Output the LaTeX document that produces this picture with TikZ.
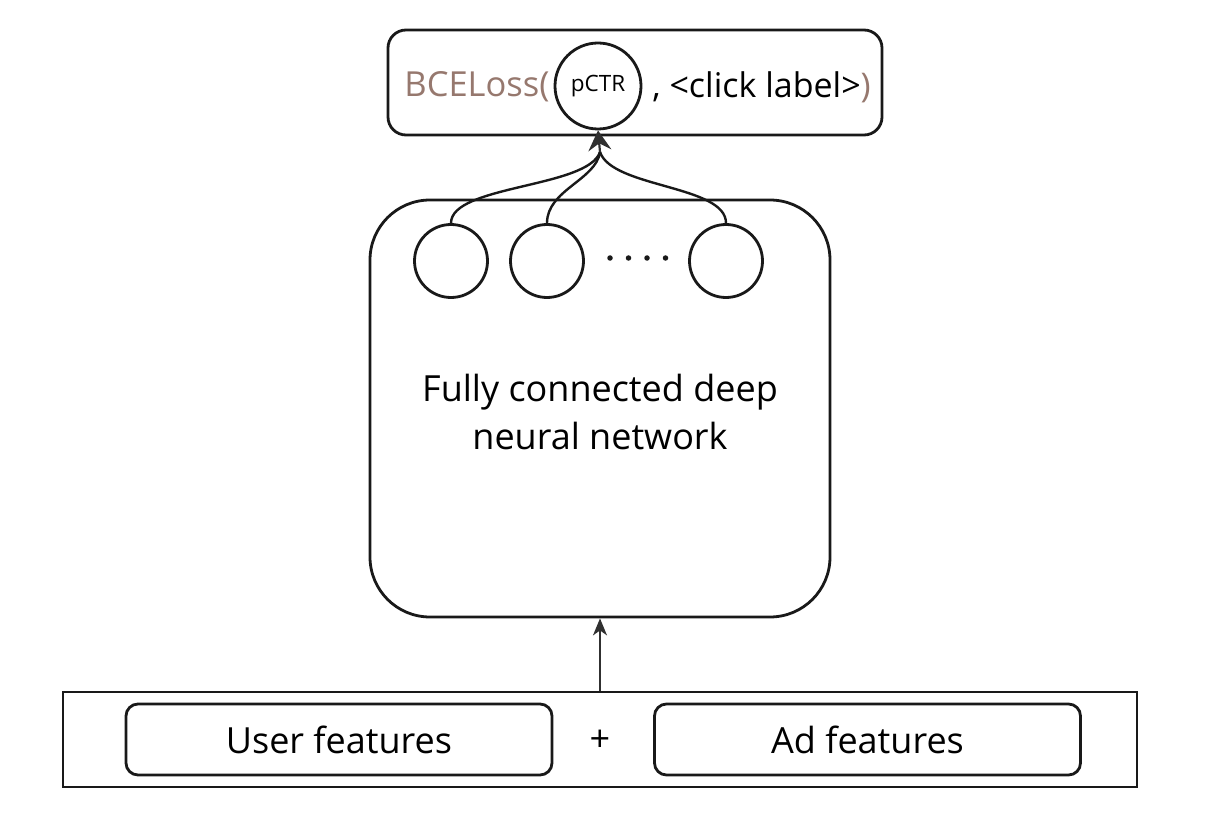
\documentclass[tikz,border=0pt]{standalone}
\usepackage{fontspec}
\setmainfont{Open Sans}
\usetikzlibrary{arrows.meta}
\definecolor{lossbrown}{RGB}{150,120,110}
\definecolor{ink}{RGB}{25,25,25}
\begin{document}
\begin{tikzpicture}[x=1pt,y=-1pt,
  line width=2.8pt, draw=ink,
  arr/.style={-{Stealth[length=20pt,width=23pt,inset=7pt]}, line width=2.2pt, draw=ink!90},
  featbox/.style={draw, rounded corners=12pt, minimum width=426pt, minimum height=71pt, font=\fontsize{36}{40}\selectfont},
  neuron/.style={draw, circle, minimum size=73pt, inner sep=0pt},
  dot/.style={fill=ink, circle, inner sep=0pt, minimum size=5.5pt}
]
\useasboundingbox (0,0) rectangle (1209,826);
% top loss box
\node[draw, rounded corners=18pt, minimum width=494pt, minimum height=105pt] (loss) at (635,82.5) {};
\node[anchor=west, font=\fontsize{34.5}{40}\selectfont, text=lossbrown, inner sep=0pt] (bce) at (403,87) {BCELoss(};
\node[draw, circle, minimum size=86pt, inner sep=0pt, font=\fontsize{22.5}{28}\selectfont] (pctr) at (598,86) {pCTR};
\node[anchor=west, font=\fontsize{34}{40}\selectfont, inner sep=0pt] (click) at (651,87) {, <click label>\textcolor{lossbrown}{)}};
% network box
\node[draw, rounded corners=60pt, minimum width=460pt, minimum height=417pt] (net) at (600,408.5) {};
\node[neuron] (n1) at (451,261) {};
\node[neuron] (n2) at (547,261) {};
\node[neuron] (n3) at (726,261) {};
\node[dot] (d1) at (610,258) {};
\node[dot] (d2) at (628.5,258) {};
\node[dot] (d3) at (647,258) {};
\node[dot] (d4) at (665.5,258) {};
\node[align=center, font=\fontsize{36}{48}\selectfont] (nettext) at (600,412) {Fully connected deep\\neural network};
% curves
\coordinate (merge) at (600,152);
\draw[line width=2.4pt] (n1.north) .. controls (451,185) and (588,188) .. (merge);
\draw[line width=2.4pt] (n2.north) .. controls (547,190) and (596,180) .. (merge);
\draw[line width=2.4pt] (n3.north) .. controls (726,185) and (612,188) .. (merge);
\draw[arr] (merge) -- (pctr.south);
% bottom
\node[draw, minimum width=1074pt, minimum height=95pt, inner sep=0pt] (input) at (600,739.5) {};
\node[featbox] (user) at (339,739.5) {User features};
\node[font=\fontsize{36}{40}\selectfont] (plus) at (600,741) {+};
\node[featbox] (ad) at (867.5,739.5) {Ad features};
\draw[arr, -{Stealth[length=17pt,width=14pt,inset=5pt]}, line width=1.8pt] (input.north) -- (net.south);
\end{tikzpicture}
\end{document}
